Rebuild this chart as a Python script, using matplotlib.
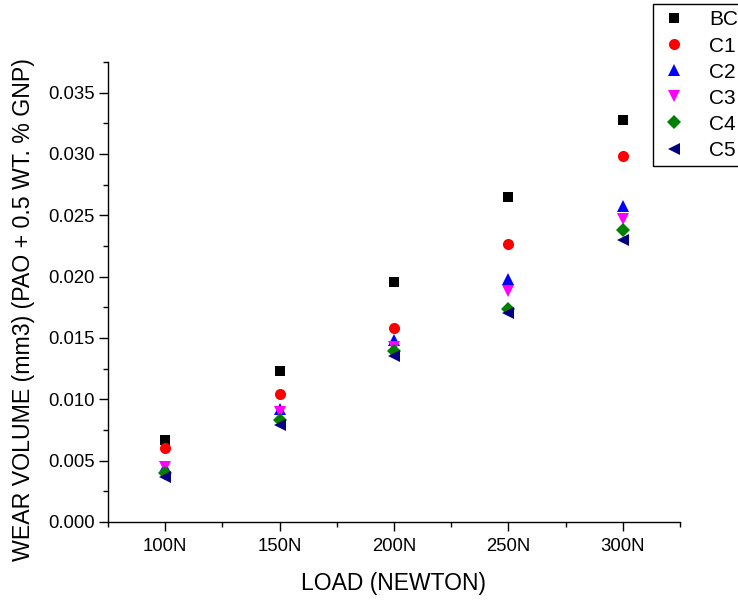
import matplotlib.pyplot as plt
import numpy as np
from matplotlib.ticker import MultipleLocator, AutoMinorLocator

plt.rcParams['font.family'] = ['Liberation Sans', 'DejaVu Sans']

# ----- Data -----
loads = ["100N", "150N", "200N", "250N", "300N"]
bc = [0.0067, 0.0123, 0.0196, 0.0265, 0.0328]
c1 = [0.0060, 0.0104, 0.0158, 0.0227, 0.0298]
c2 = [0.0045, 0.0092, 0.0148, 0.0198, 0.0258]
c3 = [0.0045, 0.0090, 0.0143, 0.0188, 0.0247]
c4 = [0.0040, 0.0083, 0.0139, 0.0174, 0.0238]
c5 = [0.0037, 0.0079, 0.0135, 0.0170, 0.0230]

series = [
    ("BC", bc, 's', 'black', 7),
    ("C1", c1, 'o', 'red', 8),
    ("C2", c2, '^', 'blue', 9),
    ("C3", c3, 'v', 'magenta', 9),
    ("C4", c4, 'D', 'green', 7),
    ("C5", c5, '<', 'navy', 9),
]

x = np.arange(1, len(loads) + 1)

fig = plt.figure(figsize=(7.38, 6), dpi=100)
ax = fig.add_axes([0.1463, 0.13, 0.775, 0.7667])

for name, vals, mk, col, ms in series:
    ax.plot(x, vals, linestyle='none', marker=mk, color=col, markersize=ms,
            markeredgewidth=0, label=name)

ax.set_xlim(0.5, 5.5)
ax.set_ylim(0, 0.0375)
ax.set_xticks(x)
ax.set_xticklabels(loads)
ax.yaxis.set_major_locator(MultipleLocator(0.005))
ax.yaxis.set_major_formatter(plt.FormatStrFormatter('%.3f'))
ax.yaxis.set_minor_locator(AutoMinorLocator(2))
ax.xaxis.set_minor_locator(MultipleLocator(0.5))

for sp in ['top', 'right']:
    ax.spines[sp].set_visible(False)
for sp in ['left', 'bottom']:
    ax.spines[sp].set_linewidth(1.0)

ax.tick_params(which='major', direction='out', length=6.5, width=1.0, labelsize=13.3)
ax.tick_params(which='minor', direction='out', length=3.3, width=1.0)
ax.tick_params(axis='y', which='major', pad=3)
ax.tick_params(axis='x', which='major', pad=5)

ax.set_xlabel("LOAD (NEWTON)", fontsize=16.5)
ax.xaxis.set_label_coords(0.5, -0.108)
ax.set_ylabel("WEAR VOLUME (mm3) (PAO + 0.5 WT. % GNP)", fontsize=16.7)
ax.yaxis.set_label_coords(-0.128, 0.461)

leg = fig.legend(loc='upper left', bbox_to_anchor=(0.885, 0.993), fontsize=15,
                 frameon=True, fancybox=False, edgecolor='black', framealpha=1,
                 handlelength=1.4, handletextpad=1.0, labelspacing=0.34,
                 borderpad=0.3, borderaxespad=0)
leg.get_frame().set_linewidth(1.0)

plt.savefig("out.png", dpi=100)
